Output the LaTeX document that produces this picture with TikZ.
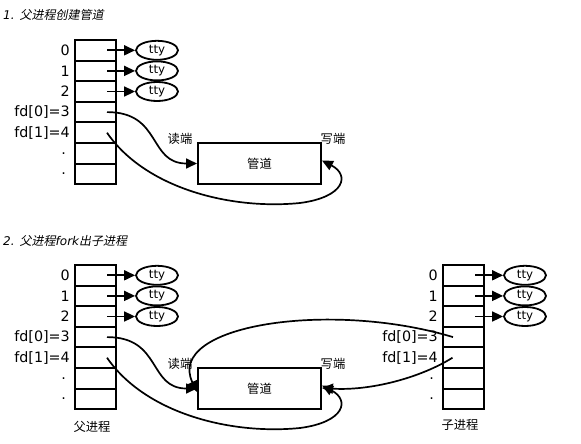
\documentclass[tikz,border=0pt]{standalone}
\usepackage{fontspec}
\setmainfont{DejaVu Sans}
\newfontfamily\cjk{Noto Sans CJK SC}
\newfontfamily\cjkit[FakeSlant=0.2]{Noto Sans CJK SC}
\usetikzlibrary{arrows.meta,shapes.geometric}
\newcommand\fdtab[3]{% #1 prefix, #2 x centre, #3 label x-shift
  \foreach \i in {0,...,6} {\node[cell] (#1\i) at (#2,{50.3+20.6*\i}) {};}
  \node[lbl] (#1l0) at ([xshift=#3]#10.west) {0};
  \node[lbl] (#1l1) at ([xshift=#3]#11.west) {1};
  \node[lbl] (#1l2) at ([xshift=#3]#12.west) {2};
  \node[lbl] (#1l3) at ([xshift=#3]#13.west) {fd[0]=3};
  \node[lbl] (#1l4) at ([xshift=#3]#14.west) {fd[1]=4};
  \node[lbl] (#1l5) at ([xshift={#3-4pt}]#15.west) {.};
  \node[lbl] (#1l6) at ([xshift={#3-4pt}]#16.west) {.};
  \foreach \i in {0,1,2} {
    \node[ttyn] (#1t\i) at ([xshift=61.5pt]#1\i.center) {tty};
    \draw[arr] ([xshift=11.5pt]#1\i.center) -- (#1t\i.west);
  }
}
\newcommand\parentpart[1]{% #1 prefix
  \fdtab{#1}{95.5}{-4pt}
  \node[pipebox] (#1pipe) at (259.5,163.5) {管道};
  \node[cn] (#1rd) at (180,139) {读端};
  \node[cn] (#1wr) at (333,139) {写端};
  \draw[arr] ([xshift=11.5pt]#13.center) .. controls (162,112) and (148,163.5) .. (#1pipe.west);
  \draw[arr] ([xshift=11.5pt]#14.center) .. controls (145,188) and (230,210) .. (300,203)
     .. controls (345,197) and (350,175) .. ([yshift=3pt]#1pipe.east);
}
\begin{document}
\begin{tikzpicture}[x=1pt,y=-1pt,
  cell/.style={draw,line width=2pt,minimum width=41pt,minimum height=20.6pt,inner sep=0pt},
  ttyn/.style={draw,ellipse,line width=1.8pt,minimum width=42pt,minimum height=19pt,inner sep=0pt,font=\fontsize{11.8}{12}\selectfont},
  lbl/.style={anchor=east,inner sep=0pt,font=\fontsize{14.3}{15}\selectfont},
  cn/.style={inner sep=0pt,font=\fontsize{12.3}{13}\cjk},
  pipebox/.style={draw,line width=2pt,minimum width=123pt,minimum height=41pt,inner sep=0pt,font=\fontsize{12.3}{13}\cjk},
  arr/.style={line width=1.7pt,-{Triangle[length=11pt,width=10pt]}},
  ttl/.style={anchor=west,inner sep=0pt,font=\fontsize{12}{13}\selectfont}
  ]
\useasboundingbox (0,0) rectangle (581,444);
\node[ttl] (title1) at (3,15) {\itshape 1. {\cjkit 父进程创建管道}};
\parentpart{a}
\node[ttl] (title2) at (3,241) {\itshape 2. {\cjkit 父进程}fork{\cjkit 出子进程}};
\begin{scope}[shift={(0,225)}]
  \parentpart{b}
  \fdtab{c}{463.5}{-4pt}
\end{scope}
\node[cn] (pname) at (92,427) {父进程};
\node[cn] (cname) at (460,425) {子进程};
\draw[arr] ([xshift=-10.5pt]c3.center) .. controls (330,300) and (165,325) .. ([yshift=-3.5pt]bpipe.west);
\draw[arr] ([xshift=-11pt]c4.center) .. controls (420,378) and (370,391) .. ([yshift=0.5pt]bpipe.east);
\end{tikzpicture}
\end{document}
